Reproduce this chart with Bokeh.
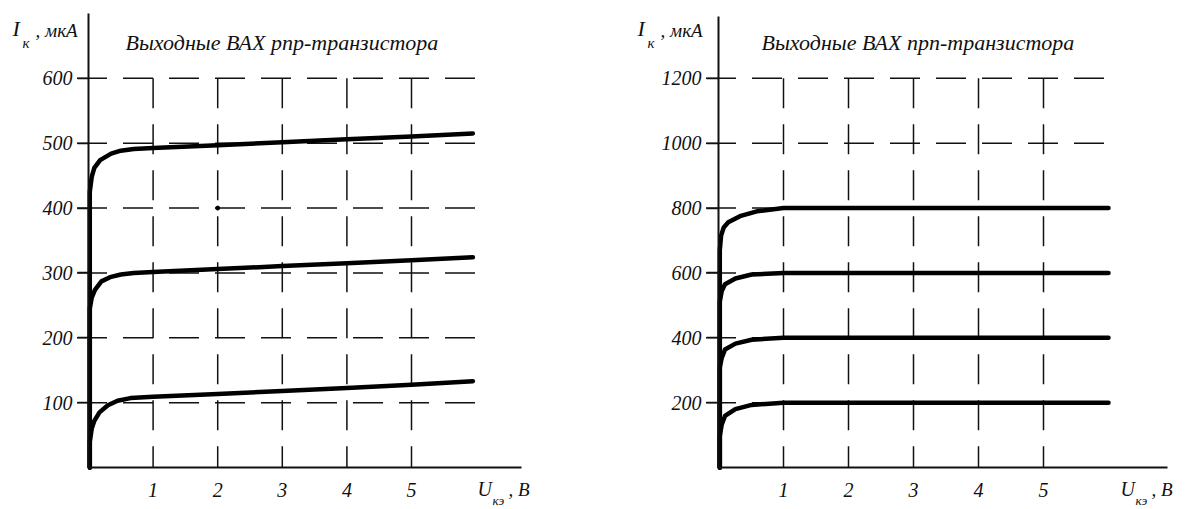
from bokeh.plotting import figure
from bokeh.layouts import row
from bokeh.models import Range1d, FixedTicker, Label, LinearAxis
from bokeh.embed import file_html
from bokeh.resources import INLINE

# ---------------- data: pnp transistor (left) ----------------
pnp_title = "Выходные ВАХ рпр-транзистора"
pnp_u_ticks = [1, 2, 3, 4, 5]
pnp_i_ticks = [100, 200, 300, 400, 500, 600]

pnp_c1_u = [0.02, 0.02, 0.05, 0.09, 0.17, 0.30, 0.45, 0.65, 1, 2, 3, 4, 5, 5.95]
pnp_c1_i = [0, 40, 60, 72, 85, 96, 103, 107, 109, 113.5, 118, 122.5, 127.5, 133]
pnp_c2_u = [0.02, 0.02, 0.05, 0.10, 0.20, 0.35, 0.50, 0.70, 1, 2, 3, 4, 5, 5.95]
pnp_c2_i = [0, 245, 262, 274, 287, 294, 297.5, 300, 301.5, 306, 310.5, 315, 319.5, 324]
pnp_c3_u = [0.02, 0.02, 0.05, 0.09, 0.18, 0.35, 0.50, 0.70, 1, 2, 3, 4, 5, 5.95]
pnp_c3_i = [0, 425, 448, 462, 474, 484, 488.5, 491, 492.5, 497, 501.5, 506, 510.5, 515]
pnp_dot_u = [2]
pnp_dot_i = [400]

# ---------------- data: npn transistor (right) ----------------
npn_title = "Выходные ВАХ прп-транзистора"
npn_u_ticks = [1, 2, 3, 4, 5]
npn_i_ticks = [200, 400, 600, 800, 1000, 1200]

npn_c1_u = [0.02, 0.02, 0.05, 0.10, 0.26, 0.51, 1, 6]
npn_c1_i = [0, 97, 133, 159, 180, 193, 200, 200]
npn_c2_u = [0.02, 0.02, 0.05, 0.10, 0.26, 0.51, 1, 6]
npn_c2_i = [0, 308, 338, 364, 382, 394, 400, 400]
npn_c3_u = [0.02, 0.02, 0.05, 0.10, 0.26, 0.51, 1, 6]
npn_c3_i = [0, 512, 544, 565, 583, 595, 600, 600]
npn_c4_u = [0.02, 0.02, 0.04, 0.08, 0.15, 0.33, 0.59, 1, 6]
npn_c4_i = [0, 670, 715, 740, 756, 775, 790, 800, 800]

y_label_main = "I"
y_label_sub = "к"
y_label_rest = ", мкА"
x_label_main = "U"
x_label_sub = "кэ"
x_label_rest = ", В"

FONT = "Liberation Serif"
INK = "#111111"
H = 509          # figure height in px
ORIGIN_Y = 467   # px from top where I = 0


def panel(width, origin_x, px_u, px_i, title, title_px, u_ticks, i_ticks, curves,
          x_axis_end, y_axis_end, grid_end, tick_out, ylab_px, xlab_px, dots=None):
    x0 = -origin_x / px_u
    x1 = (width - origin_x) / px_u
    y0 = -(H - ORIGIN_Y) / px_i
    y1 = ORIGIN_Y / px_i
    p = figure(output_backend="svg", toolbar_location=None, width=width, height=H,
               min_border=0, x_axis_type=None, y_axis_type=None,
               x_range=Range1d(x0, x1), y_range=Range1d(y0, y1))
    p.outline_line_color = None
    p.background_fill_color = "white"
    p.border_fill_color = "white"

    xa = LinearAxis(fixed_location=0, bounds=(0, x_axis_end), ticker=FixedTicker(ticks=u_ticks))
    ya = LinearAxis(fixed_location=0, bounds=(0, y_axis_end), ticker=FixedTicker(ticks=i_ticks))
    for ax in (xa, ya):
        ax.axis_line_width = 2
        ax.axis_line_color = INK
        ax.minor_tick_line_color = None
        ax.major_label_text_font = FONT
        ax.major_label_text_font_style = "italic"
        ax.major_label_text_font_size = "20px"
        ax.major_label_text_color = INK
        ax.major_tick_line_color = INK
        ax.major_tick_line_width = 1.5
        ax.major_tick_in = 0
    xa.major_tick_out = 0
    xa.major_label_standoff = 15
    ya.major_tick_out = tick_out
    ya.major_label_standoff = 5
    p.add_layout(xa, "below")
    p.add_layout(ya, "left")

    top = max(i_ticks)
    gx0 = -(tick_out + 0.5) / px_u
    # dashed grid
    p.segment(x0=[gx0] * len(i_ticks), y0=i_ticks, x1=[grid_end] * len(i_ticks), y1=i_ticks,
              line_color=INK, line_width=1.5, line_dash="30 16")
    p.segment(x0=u_ticks, y0=[top] * len(u_ticks), x1=u_ticks, y1=[0] * len(u_ticks),
              line_color=INK, line_width=1.5, line_dash="30 16")

    for cu, ci in curves:
        p.line(cu, ci, line_color="black", line_width=4.5,
               line_join="round", line_cap="round")
    if dots:
        p.scatter(dots[0], dots[1], size=4, color="black")

    # title
    p.add_layout(Label(x=(title_px - origin_x) / px_u, y=(ORIGIN_Y - 42) / px_i, text=title,
                       text_font=FONT, text_font_style="italic", text_font_size="22px",
                       text_color=INK, text_baseline="middle"))

    # y label: I_к, мкА
    lx = (ylab_px - origin_x) / px_u
    base_y = (ORIGIN_Y - 40) / px_i
    sub_y = (ORIGIN_Y - 34) / px_i
    p.add_layout(Label(x=lx, y=base_y, text=y_label_main, text_font=FONT,
                       text_font_style="italic", text_font_size="22px", text_color=INK))
    p.add_layout(Label(x=lx + 10 / px_u, y=sub_y, text=y_label_sub, text_font=FONT,
                       text_font_style="italic", text_font_size="15px", text_color=INK,
                       text_baseline="top"))
    p.add_layout(Label(x=lx + 23 / px_u, y=base_y, text=y_label_rest, text_font=FONT,
                       text_font_style="italic", text_font_size="19px", text_color=INK))
    # x label: U_кэ, В
    ux = (xlab_px - origin_x) / px_u
    xb = (ORIGIN_Y - 499) / px_i
    xs = (ORIGIN_Y - 492) / px_i
    p.add_layout(Label(x=ux, y=xb, text=x_label_main, text_font=FONT,
                       text_font_style="italic", text_font_size="20px", text_color=INK))
    p.add_layout(Label(x=ux + 15 / px_u, y=xs, text=x_label_sub, text_font=FONT,
                       text_font_style="italic", text_font_size="13px", text_color=INK,
                       text_baseline="top"))
    p.add_layout(Label(x=ux + 31 / px_u, y=xb, text=x_label_rest, text_font=FONT,
                       text_font_style="italic", text_font_size="19px", text_color=INK))
    return p


p1 = panel(600, 88, 64.6, 454 / 700, pnp_title, 125, pnp_u_ticks, pnp_i_ticks,
           [(pnp_c1_u, pnp_c1_i), (pnp_c2_u, pnp_c2_i), (pnp_c3_u, pnp_c3_i)],
           x_axis_end=6.7, y_axis_end=700, grid_end=6.1, tick_out=11,
           ylab_px=12, xlab_px=477, dots=(pnp_dot_u, pnp_dot_i))

p2 = panel(577, 118, 65.0, 454 / 1400, npn_title, 161, npn_u_ticks, npn_i_ticks,
           [(npn_c1_u, npn_c1_i), (npn_c2_u, npn_c2_i), (npn_c3_u, npn_c3_i), (npn_c4_u, npn_c4_i)],
           x_axis_end=6.9, y_axis_end=1390, grid_end=6.0, tick_out=12,
           ylab_px=37, xlab_px=520)

layout = row(p1, p2)
open("out.html", "w").write(file_html(layout, INLINE))
